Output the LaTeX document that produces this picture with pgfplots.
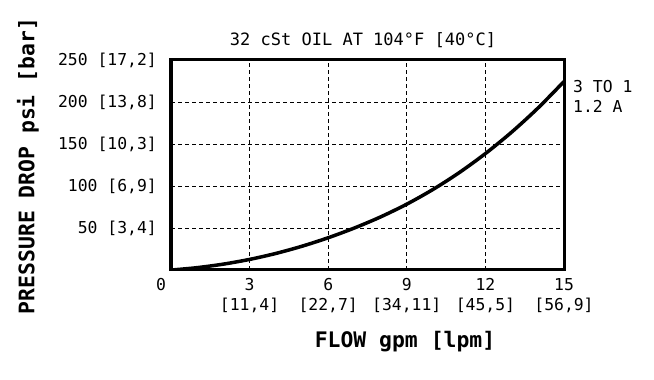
\documentclass[border=0pt]{standalone}
\usepackage{pgfplots}
\pgfplotsset{compat=1.18}
\usepackage{fontspec}
\setmainfont{DejaVu Sans Mono}
\newcommand{\tickfont}{\fontsize{16.4bp}{20bp}\selectfont}
\newcommand{\labfont}{\bfseries\fontsize{21.4bp}{24bp}\selectfont}
\begin{document}
\begin{tikzpicture}
\path[use as bounding box] (0,0) rectangle (654bp,380bp);
\begin{axis}[
  at={(171bp,110bp)}, anchor=south west,
  scale only axis, width=393bp, height=210bp,
  xmin=0, xmax=15, ymin=0, ymax=250,
  xtick={3,6,9,12,15},
  xticklabels={{3\\{}[11,4]},{6\\{}[22,7]},{9\\{}[34,11]},{12\\{}[45,5]},{15\\{}[56,9]}},
  ytick={50,100,150,200,250},
  yticklabels={{50 [3,4]},{100 [6,9]},{150 [10,3]},{200 [13,8]},{250 [17,2]}},
  grid=major,
  grid style={black, line width=0.8bp, dash pattern=on 4bp off 3bp},
  major tick length=0pt,
  axis line style={line width=3bp},
  tick label style={font=\tickfont},
  xticklabel style={align=center, anchor=north, inner sep=0pt, yshift=-8bp},
  yticklabel style={anchor=east, inner sep=0pt, xshift=-14bp},
]
\addplot[black, line width=3.5bp, smooth] coordinates {
(0.1,0.2) (1,2.8) (2,7.0) (3,12.6) (4,19.7) (5,28.3) (6,38.4) (7,50.0) (8,63.2)
(9,78.4) (10,95.9) (11,115.9) (12,138.6) (13,164.1) (14,192.6) (15,224.4)};
\end{axis}
\node[font=\fontsize{17bp}{20bp}\selectfont] at (363bp,340bp) {32 cSt OIL AT 104°F [40°C]};
\node[font=\labfont, rotate=90] at (28bp,214bp) {PRESSURE DROP psi [bar]};
\node[font=\labfont] at (405bp,38bp) {FLOW gpm [lpm]};
\node[font=\tickfont, inner sep=0pt] at (161bp,95bp) {0};
\node[font=\tickfont, anchor=west, inner sep=0pt] at (573bp,293bp) {3 TO 1};
\node[font=\tickfont, anchor=west, inner sep=0pt] at (573bp,274bp) {1.2 A};
\end{tikzpicture}
\end{document}
